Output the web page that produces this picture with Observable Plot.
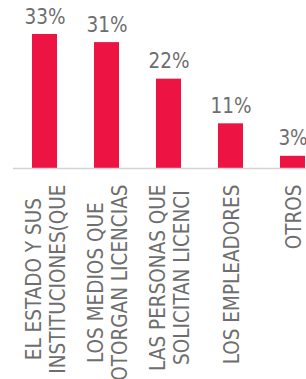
<!DOCTYPE html>
<html><head><meta charset="utf-8">
<script src="https://cdn.jsdelivr.net/npm/d3@7"></script>
<script src="https://cdn.jsdelivr.net/npm/@observablehq/plot@0.6"></script>
<style>html,body{margin:0;padding:0;background:#fff;overflow:hidden}</style>
</head><body><div id="chart"></div>
<script>
const categories = ["EL ESTADO Y SUS\nINSTITUCIONES(QUE", "LOS MEDIOS QUE\nOTORGAN LICENCIAS", "LAS PERSONAS QUE\nSOLICITAN LICENCI", "LOS EMPLEADORES", "OTROS"];
const values = [33, 31, 22, 11, 3];
const valueLabels = ["33%", "31%", "22%", "11%", "3%"];

const data = categories.map((c, i) => ({category: c, value: values[i], label: valueLabels[i]}));
const font = '"DejaVu Sans Condensed", "Liberation Sans Narrow", sans-serif';
const textColor = "#6e6e6e";

const chart = Plot.plot({
  width: 306, height: 379,
  marginTop: 34, marginBottom: 211, marginLeft: 13, marginRight: 0,
  style: {fontFamily: font, background: "#fff"},
  x: {domain: categories, paddingInner: 0.6, paddingOuter: 0.153, align: 0.95, axis: null},
  y: {domain: [0, 33], axis: null},
  marks: [
    Plot.barY(data, {x: "category", y: "value", fill: "#ED1443"}),
    Plot.ruleY([0], {stroke: "#d4d4d4", strokeWidth: 1.5}),
    Plot.text(data, {x: "category", y: "value", text: "label", dy: -11, lineAnchor: "bottom", fontSize: 20.5, fill: textColor}),
    Plot.axisX({tickSize: 0, tickRotate: -90, textAnchor: "end", lineAnchor: "middle", tickPadding: 16, fontSize: 20.5, lineHeight: 1.2, fill: textColor, label: null, tickFormat: d => d})
  ]
});
document.getElementById("chart").appendChild(chart);

// center the lines of each multi-line tick label relative to one another
chart.querySelectorAll('g[aria-label="x-axis tick label"] text').forEach(t => {
  const spans = t.querySelectorAll("tspan");
  if (spans.length < 2) return;
  let maxLen = 0;
  spans.forEach(s => { maxLen = Math.max(maxLen, s.getComputedTextLength()); });
  t.setAttribute("text-anchor", "middle");
  spans.forEach(s => s.setAttribute("x", -maxLen / 2));
});
</script>
</body></html>
